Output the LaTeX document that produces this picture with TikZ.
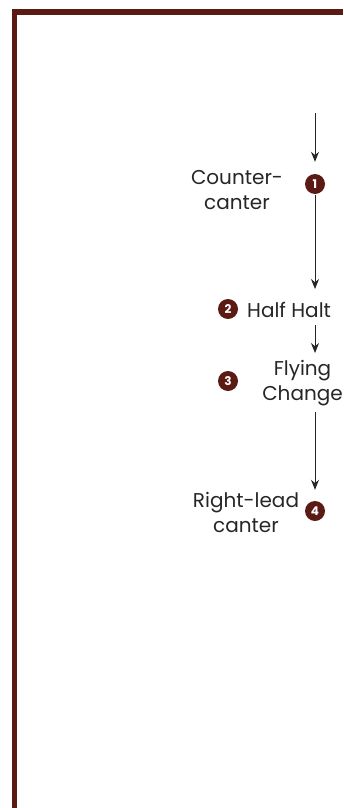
\documentclass[tikz,border=0pt]{standalone}
\usepackage{fontspec}
\setmainfont{Poppins}
\usetikzlibrary{arrows.meta}
\definecolor{maroon}{HTML}{5C1A14}
\definecolor{inkgray}{HTML}{262626}
\tikzstyle{fStep} = [circle, fill=maroon, text=white, inner sep=0pt, minimum size=20pt, font=\fontsize{12}{12}\selectfont\bfseries]
\tikzstyle{fLabel} = [align=center, text=inkgray, inner sep=0pt, font=\fontsize{20}{25}\selectfont]
\tikzstyle{fArrow} = [draw=inkgray, line width=1pt, -{Stealth[length=10pt,width=8pt]}]

\begin{document}
\begin{tikzpicture}[x=1pt, y=-1pt]
    \useasboundingbox (0,0) rectangle (343,808);
    % frame
    \fill[maroon] (12,9) rectangle (343,15);
    \fill[maroon] (12,9) rectangle (17,808);

    \coordinate (start) at (315,113);
    \node (one) [fStep] at (315,184) {1};
    \node (counter) [fLabel] at (237,190) {Counter-\\canter};
    \node (two) [fStep] at (228,309) {2};
    \node (halt) [fLabel, anchor=west] at (247,310) {Half Halt};
    \node (three) [fStep] at (228,381) {3};
    \node (flying) [fLabel] at (302.5,383) {Flying\\Change};
    \node (four) [fStep] at (315,511) {4};
    \node (rightlead) [fLabel] at (246,512) {Right-lead\\canter};

    \draw [fArrow, shorten >=12pt] (start) -- (one);
    \draw [fArrow, shorten <=1pt, shorten >=21pt] (one) -- (one |- halt);
    \draw [fArrow, shorten <=15pt, shorten >=7pt] (one |- halt) -- (one |- flying.north);
    \draw [fArrow, shorten <=6pt, shorten >=11pt] (one |- flying.south) -- (four);
\end{tikzpicture}
\end{document}
